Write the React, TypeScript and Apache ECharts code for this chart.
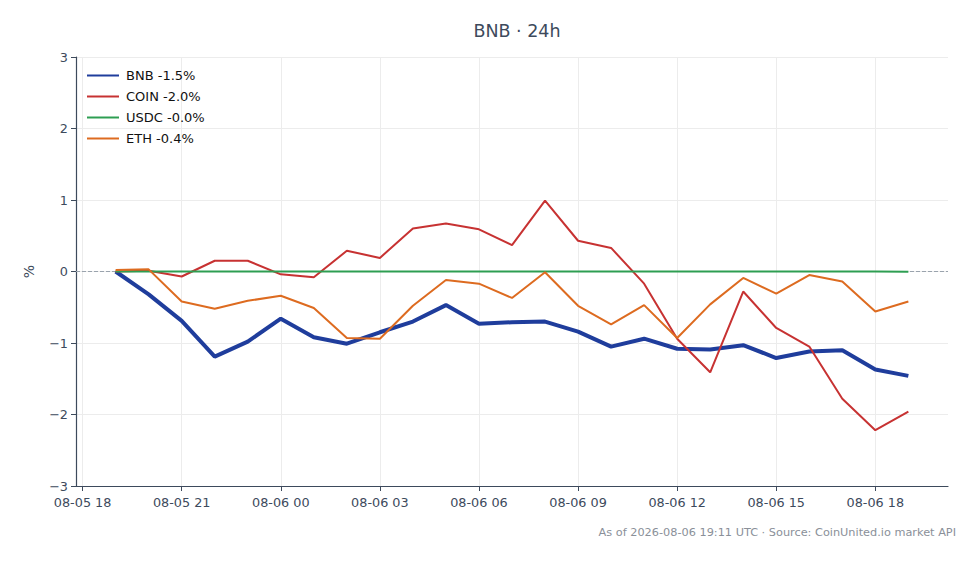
import React, { useEffect, useRef } from 'react';
import * as echarts from 'echarts';

// hours since 08-05 00:00 UTC, one point per hour
const hours = [19, 20, 21, 22, 23, 24, 25, 26, 27, 28, 29, 30, 31, 32, 33, 34, 35, 36, 37, 38, 39, 40, 41, 42, 43];
const tickHours = [18, 21, 24, 27, 30, 33, 36, 39, 42];

const bnb = [0, -0.32, -0.69, -1.19, -0.98, -0.66, -0.92, -1.01, -0.85, -0.70, -0.47, -0.73, -0.71, -0.70, -0.84, -1.05, -0.94, -1.08, -1.09, -1.03, -1.21, -1.12, -1.10, -1.37, -1.46];
const coin = [0, 0.01, -0.07, 0.15, 0.15, -0.04, -0.08, 0.29, 0.19, 0.60, 0.67, 0.59, 0.37, 0.99, 0.43, 0.33, -0.17, -0.94, -1.41, -0.28, -0.79, -1.05, -1.78, -2.22, -1.96];
const usdc = [0, 0, -0.001, 0, 0.001, 0, -0.001, 0, 0, -0.001, 0, 0, 0.001, 0, -0.001, 0, 0, -0.001, 0, 0, 0.001, 0, -0.001, 0, -0.002];
const eth = [0.02, 0.03, -0.42, -0.52, -0.41, -0.34, -0.51, -0.93, -0.94, -0.48, -0.12, -0.17, -0.37, -0.01, -0.48, -0.74, -0.47, -0.93, -0.46, -0.09, -0.31, -0.05, -0.14, -0.56, -0.42];

const assets = [
  { name: 'BNB', values: bnb, color: '#1f3d9c', width: 4 },
  { name: 'COIN', values: coin, color: '#c73232', width: 2 },
  { name: 'USDC', values: usdc, color: '#2e9e52', width: 2 },
  { name: 'ETH', values: eth, color: '#dd6b20', width: 2 },
];

const FONT = '"DejaVu Sans", sans-serif';
const AXIS = '#3d4a5c';

const pad = (n: number) => (n < 10 ? '0' + n : '' + n);
const hourLabel = (h: number) => (h < 24 ? '08-05 ' + pad(h) : '08-06 ' + pad(h - 24));

const App: React.FC = () => {
  const ref = useRef<HTMLDivElement>(null);

  useEffect(() => {
    document.body.style.margin = '0';
    if (!ref.current) return;
    const chart = echarts.init(ref.current, null, { renderer: 'svg' });

    // 5% padding on both sides of the data range
    const span = hours[hours.length - 1] - hours[0];
    const xMin = hours[0] - span * 0.05;
    const xMax = hours[hours.length - 1] + span * 0.05;

    const lastOf: Record<string, number> = {};
    assets.forEach(a => (lastOf[a.name] = a.values[a.values.length - 1]));

    const option: any = {
      animation: false,
      textStyle: { fontFamily: FONT },
      title: {
        text: 'BNB · 24h',
        left: 512,
        textAlign: 'center',
        top: 17,
        textStyle: { fontSize: 17.5, fontWeight: 'normal', color: AXIS, fontFamily: FONT },
      },
      legend: {
        orient: 'vertical',
        left: 81,
        top: 64,
        itemWidth: 32,
        itemHeight: 14,
        itemGap: 8,
        itemStyle: { opacity: 0 },
        textStyle: { fontSize: 13, color: '#111', fontFamily: FONT, padding: [0, 0, 0, 2] },
        formatter: (name: string) => `${name} ${lastOf[name].toFixed(1)}%`,
        data: assets.map(a => a.name),
      },
      grid: { left: 76, right: 32, top: 57, bottom: 78, containLabel: false, outerBoundsMode: 'none' },
      xAxis: {
        type: 'value',
        min: xMin,
        max: xMax,
        axisLine: { show: true, onZero: false, lineStyle: { color: AXIS, width: 1.2 } },
        axisTick: { show: true, length: 5, customValues: tickHours, lineStyle: { color: AXIS } },
        axisLabel: {
          customValues: tickHours,
          formatter: (v: number) => hourLabel(v),
          color: AXIS,
          fontSize: 12.8,
          margin: 10,
          fontFamily: FONT,
        },
        splitLine: { show: true, lineStyle: { color: '#ececec', width: 1 } },
      },
      yAxis: {
        type: 'value',
        min: -3,
        max: 3,
        interval: 1,
        name: '%',
        nameLocation: 'middle',
        nameGap: 40,
        nameTextStyle: { color: AXIS, fontSize: 14, fontFamily: FONT },
        axisLine: { show: true, lineStyle: { color: AXIS, width: 1.2 } },
        axisTick: { show: true, length: 5, lineStyle: { color: AXIS } },
        axisLabel: {
          formatter: (v: number) => String(v).replace('-', '\u2212'),
          color: AXIS,
          fontSize: 12.8,
          margin: 8,
          fontFamily: FONT,
        },
        splitLine: { show: true, lineStyle: { color: '#ececec', width: 1 } },
      },
      series: assets.map((a, i) => ({
        name: a.name,
        type: 'line',
        data: hours.map((h, j) => [h, a.values[j]]),
        showSymbol: false,
        symbol: 'none',
        color: a.color,
        lineStyle: { color: a.color, width: a.width },
        z: 3 + i,
        markLine:
          i === 0
            ? {
                silent: true,
                symbol: 'none',
                label: { show: false },
                lineStyle: { color: '#9aa3ad', type: 'dashed', width: 1 },
                data: [{ yAxis: 0 }],
                z: 1,
              }
            : undefined,
      })),
      graphic: [
        {
          type: 'text',
          right: 24,
          top: 527,
          style: {
            text: 'As of 2026-08-06 19:11 UTC · Source: CoinUnited.io market API',
            fill: '#8a9099',
            fontSize: 11.3,
            fontFamily: FONT,
          },
        },
      ],
    };

    chart.setOption(option);
    return () => {
      chart.dispose();
    };
  }, []);

  return <div ref={ref} style={{ width: 980, height: 564 }} />;
};

export default App;
